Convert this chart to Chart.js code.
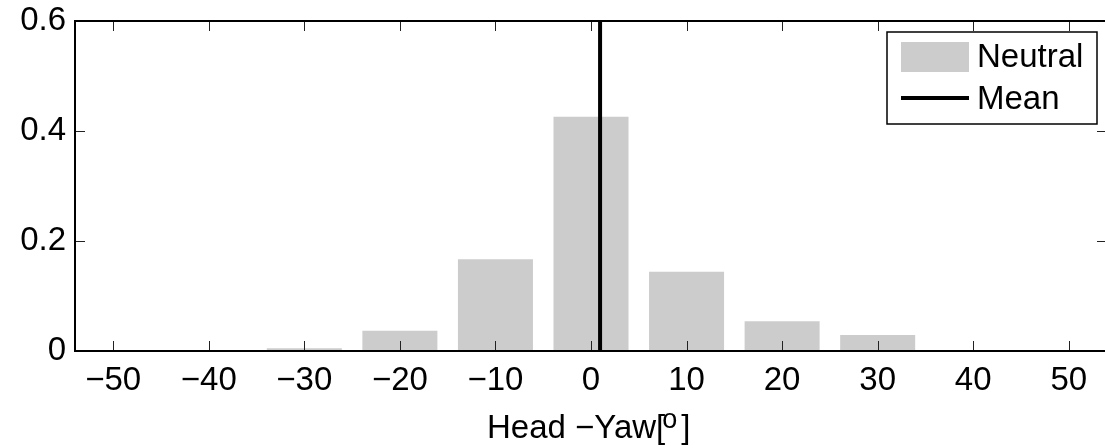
<!DOCTYPE html>
<html>
<head>
<meta charset="utf-8">
<script src="https://cdn.jsdelivr.net/npm/chart.js@4.4.1/dist/chart.umd.min.js"></script>
<style>
html, body { margin: 0; padding: 0; background: #fff; overflow: hidden; }
#wrap { width: 1110px; height: 448px; }
</style>
</head>
<body>
<div id="wrap"><canvas id="chart" width="1110" height="448"></canvas></div>
<script>
// histogram of head yaw (neutral condition)
const binCenters = [-50, -40, -30, -20, -10, 0, 10, 20, 30, 40, 50];
const neutralFreq = [0, 0, 0.005, 0.037, 0.167, 0.426, 0.144, 0.054, 0.029, 0, 0];
const meanYaw = 0.95;
const xTicks = [-50, -40, -30, -20, -10, 0, 10, 20, 30, 40, 50];
const yTicks = [0, 0.2, 0.4, 0.6];
const xTitle = ["Head \u2212Yaw[", "o", "]"];

const FONT = "'Liberation Sans', Arial, Helvetica, sans-serif";
const FONT_SIZE = 33;

const canvas = document.getElementById("chart");

// box + inward tick marks, matlab style
const framePlugin = {
    id: "frame",
    afterDatasetsDraw(chart) {
        const { ctx, chartArea: a, scales } = chart;
        const x = scales.x, y = scales.y;
        ctx.save();
        ctx.strokeStyle = "#222";
        ctx.lineWidth = 1;
        ctx.beginPath();
        x.ticks.forEach(t => {
            const px = Math.round(x.getPixelForValue(t.value)) + 0.5;
            ctx.moveTo(px, a.bottom); ctx.lineTo(px, a.bottom - 10);
            ctx.moveTo(px, a.top); ctx.lineTo(px, a.top + 10);
        });
        y.ticks.forEach(t => {
            const py = Math.round(y.getPixelForValue(t.value)) + 0.5;
            ctx.moveTo(a.left, py); ctx.lineTo(a.left + 10, py);
            ctx.moveTo(a.right, py); ctx.lineTo(a.right - 10, py);
        });
        ctx.stroke();
        ctx.strokeStyle = "#000";
        ctx.lineWidth = 2;
        ctx.strokeRect(a.left, a.top, a.right - a.left, a.bottom - a.top);
        ctx.restore();
    }
};

// legend with a border box
const boxLegend = {
    id: "boxLegend",
    afterDraw(chart) {
        const { ctx, chartArea: a } = chart;
        const ds = chart.data.datasets;
        const right = a.right - 10, top = a.top + 11;
        const w = 210, h = 92, left = right - w;
        ctx.save();
        ctx.fillStyle = "#fff";
        ctx.fillRect(left, top, w, h);
        ctx.strokeStyle = "#000";
        ctx.lineWidth = 1.5;
        ctx.strokeRect(left, top, w, h);
        ctx.fillStyle = ds[0].backgroundColor;
        ctx.fillRect(left + 14, top + 10, 68, 30);
        ctx.strokeStyle = ds[1].borderColor;
        ctx.lineWidth = 4;
        ctx.beginPath();
        ctx.moveTo(left + 14, top + 66);
        ctx.lineTo(left + 82, top + 66);
        ctx.stroke();
        ctx.fillStyle = "#000";
        ctx.font = FONT_SIZE + "px " + FONT;
        ctx.textBaseline = "middle";
        ctx.fillText(ds[0].label, left + 90, top + 26);
        ctx.fillText(ds[1].label, left + 90, top + 68);
        ctx.restore();
    }
};

// x axis title with superscript degree "o"
const xTitlePlugin = {
    id: "xTitle",
    afterDraw(chart) {
        const { ctx } = chart;
        ctx.save();
        ctx.fillStyle = "#000";
        ctx.textBaseline = "alphabetic";
        const big = FONT_SIZE + "px " + FONT;
        const small = "27px " + FONT;
        ctx.font = big;
        const w1 = ctx.measureText(xTitle[0]).width;
        ctx.font = small;
        const w2 = ctx.measureText(xTitle[1]).width;
        const xs = 487;
        const base = 438;
        ctx.font = big;
        ctx.fillText(xTitle[0], xs, base);
        ctx.font = small;
        ctx.fillText(xTitle[1], xs + w1 - 3, base - 10);
        ctx.font = big;
        ctx.fillText(xTitle[2], xs + w1 + w2 + 1, base);
        ctx.restore();
    }
};

const chart = new Chart(canvas, {
    data: {
        datasets: [
            {
                type: "bar",
                label: "Neutral",
                data: binCenters.map((c, i) => ({ x: c, y: neutralFreq[i] })),
                backgroundColor: "#cccccc",
                borderWidth: 0,
                categoryPercentage: 1,
                barPercentage: 0.785,
                order: 2
            },
            {
                type: "line",
                label: "Mean",
                data: [{ x: meanYaw, y: 0 }, { x: meanYaw, y: 0.6 }],
                borderColor: "#000000",
                borderWidth: 4,
                pointRadius: 0,
                fill: false,
                order: 1
            }
        ]
    },
    options: {
        responsive: false,
        animation: false,
        layout: { padding: { top: 21, right: 3, left: 0, bottom: 0 } },
        plugins: {
            legend: { display: false },
            tooltip: { enabled: false }
        },
        scales: {
            x: {
                type: "linear",
                min: -54,
                max: 54,
                offset: false,
                grid: { display: false, drawTicks: false },
                border: { display: false },
                afterBuildTicks: s => { s.ticks = xTicks.map(v => ({ value: v })); },
                afterFit: s => { s.height = 97; s.paddingLeft = 0; s.paddingRight = 0; },
                ticks: {
                    padding: 10,
                    maxRotation: 0,
                    autoSkip: false,
                    color: "#000",
                    font: { family: FONT, size: FONT_SIZE },
                    callback: v => String(v).replace("-", "\u2212")
                }
            },
            y: {
                min: 0,
                max: 0.6,
                grid: { display: false, drawTicks: false },
                border: { display: false },
                afterBuildTicks: s => { s.ticks = yTicks.map(v => ({ value: v })); },
                afterFit: s => { s.width = 75; s.paddingTop = 0; s.paddingBottom = 0; },
                ticks: {
                    padding: 9,
                    color: "#000",
                    font: { family: FONT, size: FONT_SIZE },
                    callback: v => String(v)
                }
            }
        }
    },
    plugins: [framePlugin, boxLegend, xTitlePlugin]
});
</script>
</body>
</html>
